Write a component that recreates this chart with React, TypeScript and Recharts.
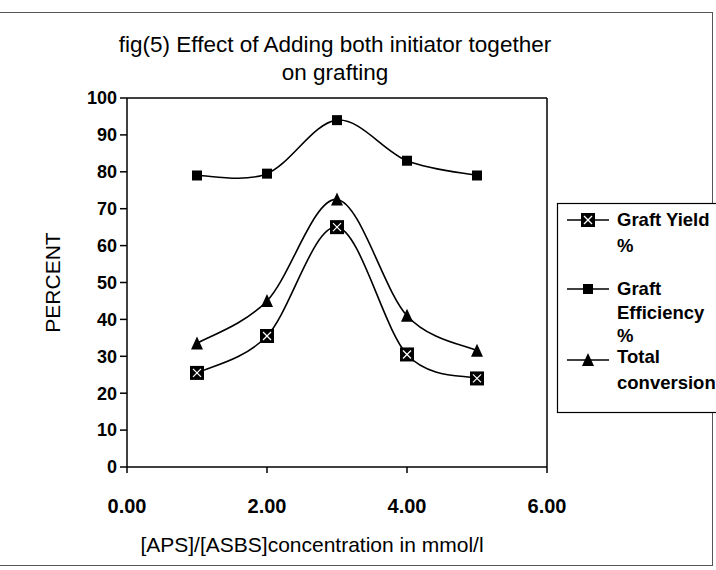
import React from "react";
import { LineChart, Line, XAxis, YAxis, ReferenceLine, Label } from "recharts";

const concentrations = [1, 2, 3, 4, 5];
const graftYield = [25.5, 35.5, 65, 30.5, 24];
const graftEfficiency = [79, 79.5, 94, 83, 79];
const totalConversion = [33.5, 45, 72.5, 41, 31.5];

const xTicks = [0, 2, 4, 6];
const yTicks = [0, 10, 20, 30, 40, 50, 60, 70, 80, 90, 100];

const data = concentrations.map((c, i) => ({
  c,
  gy: graftYield[i],
  ge: graftEfficiency[i],
  tc: totalConversion[i],
}));

const FONT = "'Liberation Sans', Arial, sans-serif";

// Excel-style smoothed line (Catmull-Rom as Bezier segments)
const excelCurve = (context: any) => {
  let pts: number[][] = [];
  return {
    areaStart() {},
    areaEnd() {},
    lineStart() {
      pts = [];
    },
    point(x: number, y: number) {
      pts.push([+x, +y]);
    },
    lineEnd() {
      if (!pts.length) return;
      context.moveTo(pts[0][0], pts[0][1]);
      for (let i = 0; i < pts.length - 1; i++) {
        const p0 = pts[i - 1] || pts[i];
        const p1 = pts[i];
        const p2 = pts[i + 1];
        const p3 = pts[i + 2] || p2;
        context.bezierCurveTo(
          p1[0] + (p2[0] - p0[0]) / 6,
          p1[1] + (p2[1] - p0[1]) / 6,
          p2[0] - (p3[0] - p1[0]) / 6,
          p2[1] - (p3[1] - p1[1]) / 6,
          p2[0],
          p2[1]
        );
      }
    },
  };
};

const CrossSquare = ({ cx, cy, s = 14 }: any) => (
  <g>
    <rect x={cx - s / 2} y={cy - s / 2} width={s} height={s} fill="#000" />
    <line x1={cx - 4} y1={cy - 4} x2={cx + 4} y2={cy + 4} stroke="#fff" strokeWidth={1.2} />
    <line x1={cx + 4} y1={cy - 4} x2={cx - 4} y2={cy + 4} stroke="#fff" strokeWidth={1.2} />
  </g>
);

const Square = ({ cx, cy, s = 10 }: any) => (
  <rect x={cx - s / 2} y={cy - s / 2} width={s} height={s} fill="#000" />
);

const Triangle = ({ cx, cy, s = 12 }: any) => (
  <polygon
    points={`${cx},${cy - s / 2 - 1} ${cx + s / 2},${cy + s / 2} ${cx - s / 2},${cy + s / 2}`}
    fill="#000"
  />
);

const LegendBox = () => {
  const t = { fontFamily: FONT, fontSize: 18.5, fontWeight: 700, fill: "#000" } as const;
  return (
    <svg width={170} height={212} style={{ overflow: "visible", display: "block" }}>
      <rect x={0.5} y={0.5} width={175} height={209} fill="#fff" stroke="#000" strokeWidth={1.2} />
      <line x1={10} y1={17} x2={52} y2={17} stroke="#000" strokeWidth={1.5} />
      <CrossSquare cx={31} cy={17} />
      <text x={60} y={23} {...t}>Graft Yield</text>
      <text x={60} y={49} {...t}>%</text>
      <line x1={10} y1={86} x2={52} y2={86} stroke="#000" strokeWidth={1.5} />
      <Square cx={31} cy={86} />
      <text x={60} y={92} {...t}>Graft</text>
      <text x={60} y={116} {...t}>Efficiency</text>
      <text x={60} y={139} {...t}>%</text>
      <line x1={10} y1={157} x2={52} y2={157} stroke="#000" strokeWidth={1.5} />
      <Triangle cx={31} cy={157} />
      <text x={60} y={160} {...t}>Total</text>
      <text x={60} y={186} {...t}>conversion</text>
    </svg>
  );
};

export default function App() {
  return (
    <div
      style={{
        position: "absolute",
        left: 0,
        top: 0,
        width: 716,
        height: 570,
        background: "#fff",
        overflow: "hidden",
        fontFamily: FONT,
      }}
    >
      <div
        style={{
          position: "absolute",
          left: -2,
          top: 12,
          width: 713,
          height: 552,
          border: "1px solid #555",
        }}
      />
      <div
        style={{
          position: "absolute",
          left: 0,
          width: 670,
          top: 31,
          textAlign: "center",
          fontSize: 22.5,
          lineHeight: "28px",
          color: "#000",
        }}
      >
        fig(5) Effect of Adding both initiator together
        <br />
        on grafting
      </div>
      <LineChart
        width={716}
        height={570}
        data={data}
        margin={{ top: 98, right: 169, bottom: 0, left: 70 }}
        style={{ position: "absolute", left: 0, top: 0 }}
      >
        <XAxis
          dataKey="c"
          type="number"
          domain={[0, 6]}
          ticks={xTicks}
          tickFormatter={(v: number) => v.toFixed(2)}
          tick={{ fontSize: 20, fill: "#000", fontWeight: 700, fontFamily: FONT }}
          tickSize={6}
          tickMargin={26}
          stroke="#000"
          strokeWidth={1.5}
          height={103}
        >
          <Label
            value="[APS]/[ASBS]concentration in mmol/l"
            position="insideTop"
            offset={70}
            dx={-25}
            style={{ fontSize: 21, fill: "#000", fontFamily: FONT }}
          />
        </XAxis>
        <YAxis
          domain={[0, 100]}
          ticks={yTicks}
          interval={0}
          tick={{ fontSize: 18, fill: "#000", fontWeight: 700, fontFamily: FONT }}
          tickSize={7}
          tickMargin={3}
          stroke="#000"
          strokeWidth={1.5}
          width={57}
        >
          <Label
            value="PERCENT"
            angle={-90}
            position="insideLeft"
            offset={-17}
            style={{ fontSize: 21, fill: "#000", fontFamily: FONT, textAnchor: "middle" }}
          />
        </YAxis>
        <ReferenceLine y={100} stroke="#000" strokeWidth={1.5} />
        <ReferenceLine x={6} stroke="#000" strokeWidth={1.5} />
        <Line
          dataKey="ge"
          type={excelCurve as any}
          stroke="#000"
          strokeWidth={1.6}
          dot={(p: any) => <Square key={p.index} cx={p.cx} cy={p.cy} />}
          isAnimationActive={false}
        />
        <Line
          dataKey="tc"
          type={excelCurve as any}
          stroke="#000"
          strokeWidth={1.6}
          dot={(p: any) => <Triangle key={p.index} cx={p.cx} cy={p.cy} />}
          isAnimationActive={false}
        />
        <Line
          dataKey="gy"
          type={excelCurve as any}
          stroke="#000"
          strokeWidth={1.6}
          dot={(p: any) => <CrossSquare key={p.index} cx={p.cx} cy={p.cy} />}
          isAnimationActive={false}
        />
      </LineChart>
      <div style={{ position: "absolute", left: 557, top: 203 }}>
        <LegendBox />
      </div>
    </div>
  );
}
